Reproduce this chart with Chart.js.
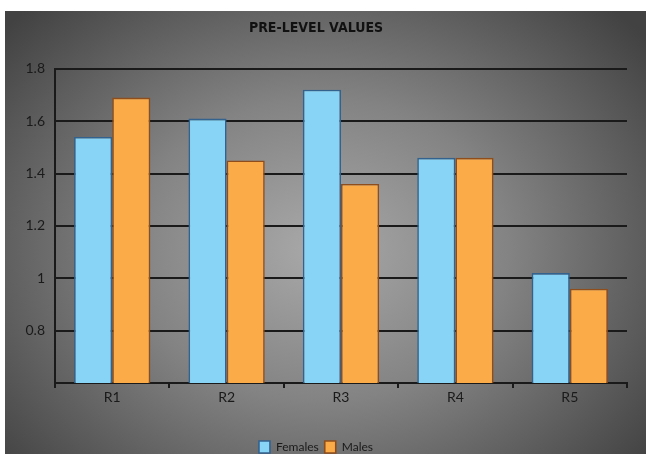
<!DOCTYPE html>
<html>
<head>
<meta charset="utf-8">
<script src="https://cdn.jsdelivr.net/npm/chart.js@4/dist/chart.umd.min.js"></script>
<style>
  html, body { margin: 0; padding: 0; background: #fff; }
  #wrap { width: 646px; height: 454px; }
</style>
</head>
<body>
<div id="wrap"><canvas id="chart"></canvas></div>
<script>
// pre-level values per round
const rounds  = ['R1', 'R2', 'R3', 'R4', 'R5'];
const females = [1.54, 1.61, 1.72, 1.46, 1.02];
const males   = [1.69, 1.45, 1.36, 1.46, 0.96];
const yTicks  = [0.8, 1, 1.2, 1.4, 1.6, 1.8];

// grey panel with a soft radial glow behind the plot
const panelBackground = {
  id: 'panelBackground',
  beforeDraw(chart) {
    const { ctx, width, height } = chart;
    ctx.save();
    ctx.fillStyle = '#ffffff';
    ctx.fillRect(0, 0, width, height);
    const cx = 320, cy = 250;
    ctx.translate(cx, cy);
    ctx.scale(1, 0.8);
    const g = ctx.createRadialGradient(0, 0, 0, 0, 0, 420);
    g.addColorStop(0, '#a9a9a9');
    g.addColorStop(0.45, '#838383');
    g.addColorStop(1, '#424242');
    ctx.fillStyle = g;
    ctx.fillRect(5 - cx, (11 - cy) / 0.8, width, (height - 11) / 0.8);
    ctx.restore();
  },
};

const ink = '#1a1a1a';

new Chart(document.getElementById('chart'), {
  type: 'bar',
  data: {
    labels: rounds,
    datasets: [
      {
        label: 'Females',
        data: females,
        backgroundColor: '#88d4f6',
        borderColor: '#33628e',
        borderWidth: 1.6,
      },
      {
        label: 'Males',
        data: males,
        backgroundColor: '#fbab48',
        borderColor: '#8f4d1c',
        borderWidth: 1.6,
      },
    ],
  },
  options: {
    responsive: true,
    maintainAspectRatio: false,
    animation: false,
    datasets: { bar: { categoryPercentage: 0.667, barPercentage: 1.0 } },
    layout: { padding: { left: 5, top: 11, right: 19, bottom: -9 } },
    plugins: {
      title: {
        display: true,
        text: 'PRE-LEVEL VALUES',
        color: '#111',
        font: { family: "'DejaVu Sans Condensed', sans-serif", size: 14, weight: 'bold' },
        padding: { top: 9, bottom: 32 },
      },
      legend: {
        position: 'bottom',
        labels: {
          color: ink,
          font: { family: 'Lato, sans-serif', size: 12 },
          boxWidth: 11,
          boxHeight: 12,
          padding: 6,
        },
      },
      tooltip: { enabled: false },
    },
    scales: {
      x: {
        grid: { drawOnChartArea: false, drawTicks: true, tickLength: 5, color: ink, lineWidth: 2 },
        border: { color: ink, width: 2 },
        ticks: { color: ink, font: { family: 'Lato, sans-serif', size: 14 }, padding: 1 },
        afterFit(scale) { scale.height = 52; },
      },
      y: {
        min: 0.6,
        max: 1.8,
        grid: { color: ink, lineWidth: 2, drawTicks: false },
        border: { color: ink, width: 2 },
        ticks: {
          stepSize: 0.2,
          color: ink,
          padding: 10,
          font: { family: 'Lato, sans-serif', size: 14 },
          callback: v => {
            const r = Math.round(v * 10) / 10;
            return yTicks.includes(r) ? String(r) : '';
          },
        },
        afterFit(scale) { scale.width = 50; },
      },
    },
  },
  plugins: [panelBackground],
});
</script>
</body>
</html>
